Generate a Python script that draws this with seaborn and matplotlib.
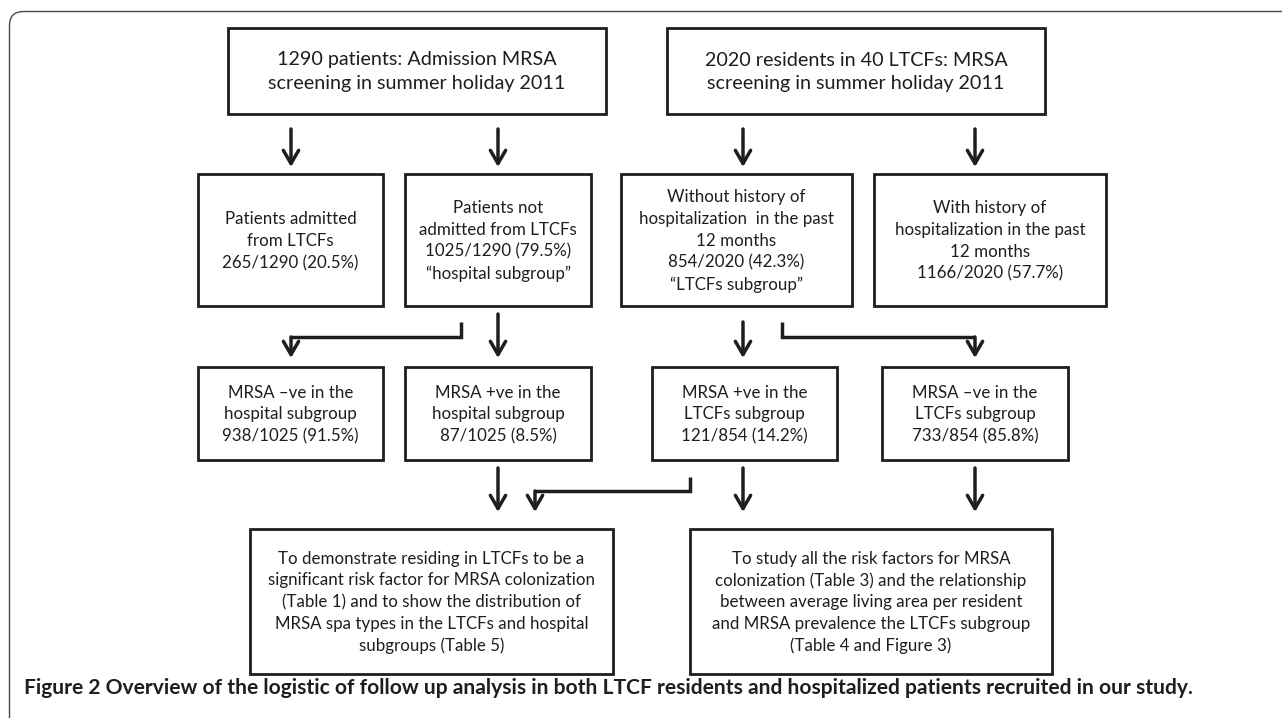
import matplotlib
matplotlib.use("Agg")
import numpy as np
import seaborn as sns
from matplotlib import pyplot as plt
from matplotlib.patches import Rectangle, FancyBboxPatch

# box texts, row by row
top_labels = [
    "1290 patients: Admission MRSA\nscreening in summer holiday 2011",
    "2020 residents in 40 LTCFs: MRSA\nscreening in summer holiday 2011",
]
split_labels = [
    "Patients admitted\nfrom LTCFs\n265/1290 (20.5%)",
    "Patients not\nadmitted from LTCFs\n1025/1290 (79.5%)\n\u201chospital subgroup\u201d",
    "Without history of\nhospitalization  in the past\n12 months\n854/2020 (42.3%)\n\u201cLTCFs subgroup\u201d",
    "With history of\nhospitalization in the past\n12 months\n1166/2020 (57.7%)",
]
mrsa_labels = [
    "MRSA \u2013ve in the\nhospital subgroup\n938/1025 (91.5%)",
    "MRSA +ve in the\nhospital subgroup\n87/1025 (8.5%)",
    "MRSA +ve in the\nLTCFs subgroup\n121/854 (14.2%)",
    "MRSA \u2013ve in the\nLTCFs subgroup\n733/854 (85.8%)",
]
aim_labels = [
    "To demonstrate residing in LTCFs to be a\nsignificant risk factor for MRSA colonization\n"
    "(Table 1) and to show the distribution of\nMRSA spa types in the LTCFs and hospital\n"
    "subgroups (Table 5)",
    "To study all the risk factors for MRSA\ncolonization (Table 3) and the relationship\n"
    "between average living area per resident\nand MRSA prevalence the LTCFs subgroup\n"
    "(Table 4 and Figure 3)",
]
caption = ("Figure 2 Overview of the logistic of follow up analysis in both LTCF residents "
           "and hospitalized patients recruited in our study.")

# layout in pixels: (x0, x1) per box, (y0, y1) per row, font size, line spacing
rows = [
    (top_labels, [(228, 606), (667, 1045)], (28, 114), 14.2, 1.5),
    (split_labels, [(198, 383), (405, 591), (621, 852), (874, 1106)], (174, 306), 12.2, 1.45),
    (mrsa_labels, [(198, 383), (405, 591), (652, 837), (882, 1068)], (367, 460), 12.2, 1.45),
    (aim_labels, [(250, 613), (690, 1052)], (529, 674), 12.2, 1.43),
]
straight = [(291, 129, 167), (498, 129, 167), (743, 129, 167), (975, 129, 167),
            (498, 314, 358), (743, 322, 358),
            (498, 468, 512), (743, 468, 512), (975, 468, 512)]
elbows = [[(461, 322), (461, 337), (291, 337), (291, 358)],
          [(782, 322), (782, 337), (975, 337), (975, 358)],
          [(690, 477), (690, 491), (535, 491), (535, 512)]]

ink = "#1e1e1e"

sns.set_theme(style="white")
plt.rcParams["font.family"] = ["Lato", "DejaVu Sans"]

fig = plt.figure(figsize=(12.82, 7.18), dpi=100)
ax = fig.add_axes([0, 0, 1, 1])
ax.set_xlim(0, 1282)
ax.set_ylim(718, 0)
ax.set_axis_off()

# outer rounded frame, open to the right and bottom edges
ax.add_patch(FancyBboxPatch((9.5, 11.5), 1300, 722,
                            boxstyle="round,pad=0,rounding_size=14",
                            fc="none", ec="#4a4a4a", lw=1.0))

for labels, xs, (y0, y1), fs, ls in rows:
    for text, (x0, x1) in zip(labels, xs):
        ax.add_patch(Rectangle((x0, y0), x1 - x0, y1 - y0, fc="white",
                               ec=ink, lw=2.0, joinstyle="miter"))
        ax.text((x0 + x1) / 2, (y0 + y1) / 2 + 1, text, ha="center", va="center",
                fontsize=fs, linespacing=ls, color=ink)

arrow_kw = dict(arrowstyle="->,head_length=0.95,head_width=0.55", lw=2.5,
                color=ink, shrinkA=0, shrinkB=0, mutation_scale=10)

for x, ya, yb in straight:
    ax.annotate("", xy=(x, yb), xytext=(x, ya), arrowprops=arrow_kw)

for pts in elbows:
    xs_, ys_ = zip(*pts[:-1])
    ax.plot(xs_, ys_, color=ink, lw=2.5, solid_joinstyle="miter",
            solid_capstyle="butt")
    ax.annotate("", xy=pts[-1], xytext=pts[-2], arrowprops=arrow_kw)

ax.text(24, 688, caption, ha="left", va="center", fontsize=15.1,
        fontweight="bold", color=ink)

fig.savefig("out.png", dpi=100)
